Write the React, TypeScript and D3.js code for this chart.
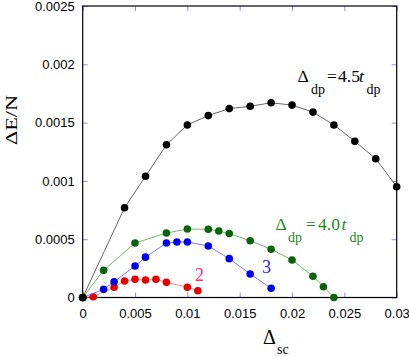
import React, { useEffect, useRef } from 'react';
import { select, scaleLinear, axisBottom, axisLeft, axisTop, axisRight, line } from 'd3';

// Delta_sc values and Delta E / N for each curve
const blackX = [0, 0.004, 0.006, 0.008, 0.01, 0.012, 0.014, 0.016, 0.018, 0.02, 0.022, 0.024, 0.026, 0.028, 0.03];
const blackY = [0, 0.00077, 0.00104, 0.00131, 0.00148, 0.00156, 0.00162, 0.00164, 0.00167, 0.00165, 0.00159, 0.00148, 0.00134, 0.00119, 0.00095];

const greenX = [0, 0.002, 0.005, 0.008, 0.01, 0.012, 0.013, 0.014, 0.016, 0.018, 0.02, 0.022, 0.023, 0.024];
const greenY = [0, 0.000233, 0.000467, 0.000553, 0.000587, 0.000585, 0.00057, 0.000549, 0.000487, 0.000414, 0.000322, 0.000182, 0.0000926, 0];

const blueX = [0, 0.002, 0.003, 0.005, 0.006, 0.008, 0.009, 0.01, 0.012, 0.014, 0.016, 0.018];
const blueY = [0, 0.00007, 0.000135, 0.00027, 0.000346, 0.000467, 0.000476, 0.000476, 0.000442, 0.000333, 0.000202, 0.000079];

const redX = [0, 0.001, 0.003, 0.004, 0.005, 0.006, 0.007, 0.008, 0.01, 0.011];
const redY = [0, 0.000007, 0.0000875, 0.000142, 0.000156, 0.00015, 0.000156, 0.00013, 0.0000883, 0.0000583];

const xTicks = [0, 0.005, 0.01, 0.015, 0.02, 0.025, 0.03];
const xTickLabels = ['0', '0.005', '0.01', '0.015', '0.02', '0.025', '0.03'];
const yTicks = [0, 0.0005, 0.001, 0.0015, 0.002, 0.0025];
const yTickLabels = ['0', '0.0005', '0.001', '0.0015', '0.002', '0.0025'];

const series = [
  { xs: redX, ys: redY, line: '#ff7a7a', dot: '#e80000' },
  { xs: blueX, ys: blueY, line: '#6a6aff', dot: '#0000ee' },
  { xs: greenX, ys: greenY, line: '#6aa86a', dot: '#0a640a' },
  { xs: blackX, ys: blackY, line: '#555555', dot: '#000000' },
];

function App() {
  const svgRef = useRef<SVGSVGElement>(null);

  useEffect(() => {
    const width = 409;
    const height = 357;
    const left = 82.7, right = 396.7, top = 6, bottom = 297.5;

    const svg = select(svgRef.current).attr('width', width).attr('height', height);
    svg.selectAll('*').remove();

    const xScale = scaleLinear().domain([0, 0.03]).range([left, right]);
    const yScale = scaleLinear().domain([0, 0.0025]).range([bottom, top]);

    const sans = "'Liberation Sans', Arial, Helvetica, sans-serif";
    const serif = "'Liberation Serif', 'DejaVu Serif', 'Times New Roman', serif";

    const styleAxis = (g: any) => {
      g.select('.domain').remove();
      g.selectAll('.tick line').attr('stroke', '#8c8cff').attr('stroke-width', 1);
      g.selectAll('.tick text').attr('fill', '#000').style('font-family', sans).style('font-size', '13px');
    };

    svg.append('g')
      .attr('transform', `translate(0,${bottom})`)
      .call(axisBottom(xScale).tickValues(xTicks).tickSize(-5).tickPadding(11)
        .tickFormat((d, i) => xTickLabels[i]))
      .call(styleAxis);

    svg.append('g')
      .attr('transform', `translate(${left},0)`)
      .call(axisLeft(yScale).tickValues(yTicks).tickSize(-5).tickPadding(8)
        .tickFormat((d, i) => yTickLabels[i]))
      .call(styleAxis);

    svg.append('g')
      .attr('transform', `translate(0,${top})`)
      .call(axisTop(xScale).tickValues(xTicks).tickSize(-5).tickFormat(() => ''))
      .call(styleAxis);

    svg.append('g')
      .attr('transform', `translate(${right},0)`)
      .call(axisRight(yScale).tickValues(yTicks).tickSize(-5).tickFormat(() => ''))
      .call(styleAxis);

    // frame
    svg.append('rect')
      .attr('x', left).attr('y', top)
      .attr('width', right - left).attr('height', bottom - top)
      .attr('fill', 'none').attr('stroke', '#000').attr('stroke-width', 1.2);

    series.forEach((s) => {
      const pts: [number, number][] = s.xs.map((x, i) => [x, s.ys[i]]);
      const lg = line<[number, number]>()
        .x((d) => xScale(d[0]))
        .y((d) => yScale(d[1]));
      svg.append('path')
        .attr('d', lg(pts))
        .attr('fill', 'none')
        .attr('stroke', s.line)
        .attr('stroke-width', 0.9);
      svg.selectAll(null)
        .data(pts)
        .join('circle')
        .attr('cx', (d) => xScale(d[0]))
        .attr('cy', (d) => yScale(d[1]))
        .attr('r', 3.8)
        .attr('fill', s.dot);
    });

    // curve labels: Δ_dp = value t_dp
    const label = (y0: number, value: string, color: string, xs: number[]) => {
      const t = svg.append('text').attr('y', y0).attr('fill', color)
        .style('font-family', serif).style('font-size', '17.5px');
      t.append('tspan').attr('x', xs[0]).text('Δ');
      t.append('tspan').attr('x', xs[1]).attr('dy', 12).style('font-size', '14px').text('dp');
      t.append('tspan').attr('x', xs[2]).attr('dy', -12).text('=');
      t.append('tspan').attr('x', xs[3]).text(value);
      t.append('tspan').attr('x', xs[4]).style('font-style', 'italic').text('t');
      t.append('tspan').attr('x', xs[5]).attr('dy', 12).style('font-size', '14px').text('dp');
    };
    label(82, '4.5', '#000', [297.5, 311, 327, 338, 359, 366.5]);
    label(230, '4.0', '#1a8a1a', [275.5, 288, 306, 318, 341.5, 349.5]);

    svg.append('text').attr('x', 262).attr('y', 273).attr('fill', '#2424f0')
      .style('font-family', serif).style('font-size', '18px').text('3');
    svg.append('text').attr('x', 195).attr('y', 281).attr('fill', '#ff2a78')
      .style('font-family', serif).style('font-size', '18px').text('2');

    // axis titles
    svg.append('text')
      .attr('transform', 'translate(17,120) rotate(-90)')
      .attr('text-anchor', 'middle')
      .attr('fill', '#000')
      .style('font-family', serif).style('font-size', '17px')
      .attr('textLength', 50).attr('lengthAdjust', 'spacingAndGlyphs')
      .text('ΔE/N');

    const xt = svg.append('text').attr('x', 263).attr('y', 344).attr('fill', '#000')
      .style('font-family', serif).style('font-size', '20px');
    xt.append('tspan').text('Δ');
    xt.append('tspan').attr('x', 277).attr('y', 354).style('font-size', '14px').text('sc');
  }, []);

  return (
    <div>
      <svg ref={svgRef} style={{ position: 'absolute', left: 0, top: 0 }}></svg>
    </div>
  );
}

export default App;
